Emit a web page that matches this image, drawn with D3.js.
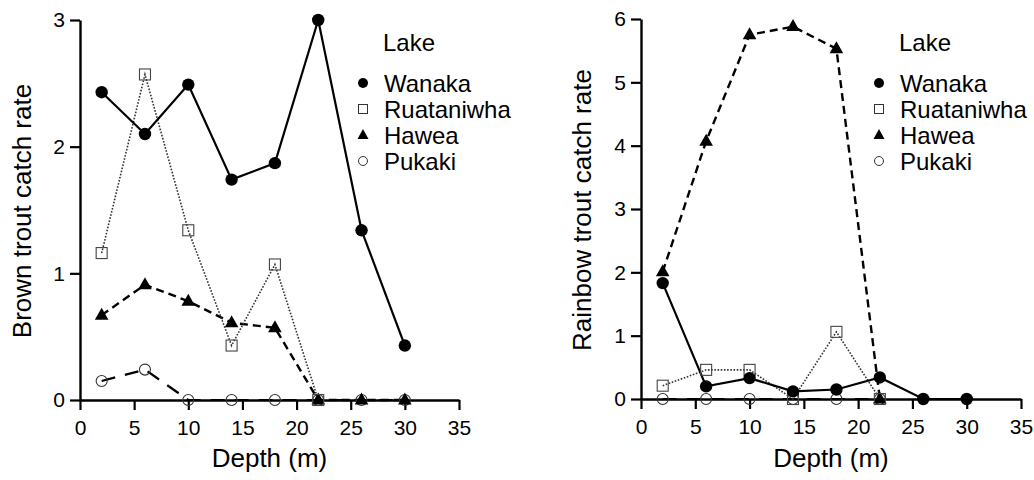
<!DOCTYPE html>
<html><head><meta charset="utf-8">
<script src="https://cdn.jsdelivr.net/npm/d3@7"></script>
<style>body{margin:0;background:#fff}text{font-family:"Liberation Sans",Arial,sans-serif;fill:#000}</style>
</head><body>
<svg id="c" width="1034" height="480"></svg>
<script>
const depths = [2, 6, 10, 14, 18, 22, 26, 30];
const lakes = ["Wanaka", "Ruataniwha", "Hawea", "Pukaki"];
const xTicks = [0, 5, 10, 15, 20, 25, 30, 35];
const brownTicks = [0, 1, 2, 3];
const rainbowTicks = [0, 1, 2, 3, 4, 5, 6];
// Brown trout catch rate
const brownWanaka = [2.43, 2.10, 2.49, 1.74, 1.87, 3.00, 1.34, 0.43];
const brownRuataniwha = [1.16, 2.57, 1.34, 0.43, 1.07, 0];
const brownHawea = [0.67, 0.91, 0.78, 0.61, 0.57, 0, 0, 0];
const brownPukaki = [0.15, 0.24, 0, 0, 0, 0, 0, 0];
// Rainbow trout catch rate
const rainbowWanaka = [1.83, 0.20, 0.33, 0.12, 0.15, 0.34, 0, 0];
const rainbowRuataniwha = [0.21, 0.46, 0.46, 0, 1.06, 0];
const rainbowHawea = [2.01, 4.07, 5.75, 5.88, 5.53, 0];
const rainbowPukaki = [0, 0, 0, 0, 0, 0];

const styles = {
  Wanaka: {dash: null, width: 2.2, color: "#000", marker: "fcircle"},
  Ruataniwha: {dash: "1.6,1.6", width: 1.6, color: "#333", marker: "square"},
  Hawea: {dash: "8,5", width: 2.4, color: "#000", marker: "triangle"},
  Pukaki: {dash: "14,10", width: 2.2, color: "#000", marker: "ocircle"}
};

const svg = d3.select("#c");

function drawMarker(g, type, x, y) {
  if (type === "fcircle") g.append("circle").attr("cx", x).attr("cy", y).attr("r", 6.2).attr("fill", "#000");
  else if (type === "ocircle") g.append("circle").attr("cx", x).attr("cy", y).attr("r", 5.5).attr("fill", "none").attr("stroke", "#333").attr("stroke-width", 1.1);
  else if (type === "square") g.append("rect").attr("x", x - 5.5).attr("y", y - 5.5).attr("width", 11).attr("height", 11).attr("fill", "none").attr("stroke", "#444").attr("stroke-width", 1.1);
  else if (type === "triangle") g.append("path").attr("d", `M${x},${y - 7.5}L${x + 6.8},${y + 4.5}L${x - 6.8},${y + 4.5}Z`).attr("fill", "#000");
}

function panel(cfg) {
  const x = d3.scaleLinear().domain([0, 35]).range([cfg.left, cfg.right]);
  const y = d3.scaleLinear().domain([0, cfg.ymax]).range([cfg.bottom, cfg.top]);
  const g = svg.append("g");
  const xa = g.append("g").attr("transform", `translate(0,${cfg.bottom})`)
    .call(d3.axisBottom(x).tickValues(xTicks).tickFormat(d3.format("d")).tickSize(10).tickPadding(5).tickSizeOuter(0));
  const ya = g.append("g").attr("transform", `translate(${cfg.left},0)`)
    .call(d3.axisLeft(y).tickValues(cfg.ticks).tickFormat(d3.format("d")).tickSize(10).tickPadding(5).tickSizeOuter(0));
  [xa, ya].forEach(a => {
    a.select(".domain").attr("stroke", "#000").attr("stroke-width", 2.4);
    a.selectAll(".tick line").attr("stroke", "#000").attr("stroke-width", 2.2);
    a.selectAll(".tick text").attr("font-size", 21).attr("fill", "#000").style("font-family", '"Liberation Sans",Arial,sans-serif');
  });
  xa.selectAll(".tick text").attr("dy", "0.95em");
  g.append("text").attr("x", (cfg.left + cfg.right) / 2 + 0).attr("y", 467).attr("text-anchor", "middle")
    .attr("font-size", 26).text("Depth (m)");
  g.append("text").attr("transform", `translate(${cfg.titleX},${(cfg.top + cfg.bottom) / 2 + 1}) rotate(-90)`)
    .attr("text-anchor", "middle").attr("font-size", 26).text(cfg.ytitle);

  const line = d3.line().x((d, i) => x(depths[i])).y(d => y(d));
  const order = ["Pukaki", "Hawea", "Ruataniwha", "Wanaka"];
  order.forEach(k => {
    const vals = cfg.series[k];
    const s = styles[k];
    g.append("path").attr("d", line(vals)).attr("fill", "none").attr("stroke", s.color)
      .attr("stroke-width", s.width).attr("stroke-dasharray", s.dash);
  });
  order.forEach(k => {
    const vals = cfg.series[k];
    vals.forEach((v, i) => drawMarker(g, styles[k].marker, x(depths[i]), y(v)));
  });

  // legend
  const lg = g.append("g");
  lg.append("text").attr("x", cfg.legX).attr("y", 51).attr("font-size", 24).text("Lake");
  lakes.forEach((k, i) => {
    const yy = 92 + i * 26;
    const t = styles[k].marker;
    const mx = cfg.legX - 20, my = yy - 9;
    if (t === "fcircle") lg.append("circle").attr("cx", mx).attr("cy", my).attr("r", 5).attr("fill", "#000");
    else if (t === "ocircle") lg.append("circle").attr("cx", mx).attr("cy", my).attr("r", 4.5).attr("fill", "none").attr("stroke", "#333").attr("stroke-width", 1);
    else if (t === "square") lg.append("rect").attr("x", mx - 4.5).attr("y", my - 4.5).attr("width", 9).attr("height", 9).attr("fill", "none").attr("stroke", "#333").attr("stroke-width", 1);
    else lg.append("path").attr("d", `M${mx},${my - 6}L${mx + 5.5},${my + 4}L${mx - 5.5},${my + 4}Z`).attr("fill", "#000");
    lg.append("text").attr("x", cfg.legX + 1).attr("y", yy).attr("font-size", 24).text(k);
  });
}

panel({left: 80, right: 459, top: 20, bottom: 400, ymax: 3, ticks: brownTicks, titleX: 31,
  ytitle: "Brown trout catch rate", legX: 383,
  series: {Wanaka: brownWanaka, Ruataniwha: brownRuataniwha, Hawea: brownHawea, Pukaki: brownPukaki}});
panel({left: 641, right: 1021, top: 19, bottom: 399, ymax: 6, ticks: rainbowTicks, titleX: 591,
  ytitle: "Rainbow trout catch rate", legX: 899,
  series: {Wanaka: rainbowWanaka, Ruataniwha: rainbowRuataniwha, Hawea: rainbowHawea, Pukaki: rainbowPukaki}});
</script>
</body></html>
